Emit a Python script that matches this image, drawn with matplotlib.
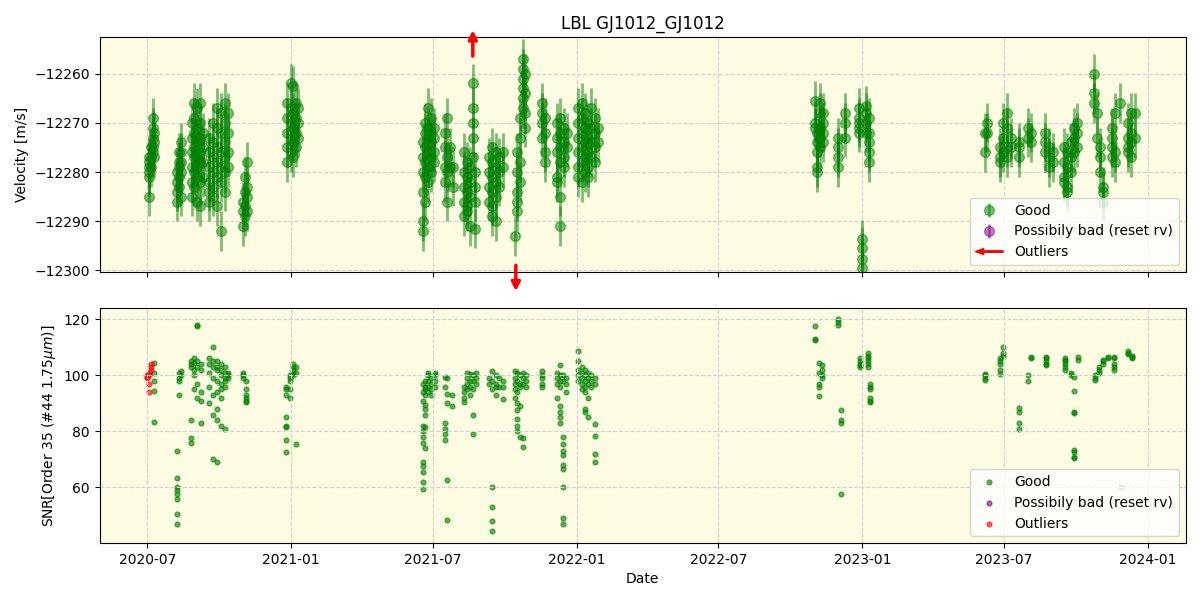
import pandas as pd
import numpy as np
import matplotlib
matplotlib.use('Agg')
import matplotlib.pyplot as plt
import matplotlib.dates as mdates
from matplotlib.patches import FancyArrow
from matplotlib.legend_handler import HandlerPatch

# RV per night: (date, [rv values in m/s])
rv_nights = [
    ("2020-07-03", [-12277, -12278, -12279, -12280, -12281, -12285]),
    ("2020-07-06", [-12275, -12277, -12279]),
    ("2020-07-08", [-12269, -12271, -12273, -12275, -12276]),
    ("2020-07-10", [-12272, -12274, -12277]),
    ("2020-08-08", [-12280, -12282, -12284, -12286]),
    ("2020-08-11", [-12276, -12278, -12279, -12281, -12283]),
    ("2020-08-13", [-12274, -12276, -12278, -12280, -12285]),
    ("2020-08-27", [-12270, -12273, -12276, -12279, -12282, -12285]),
    ("2020-08-30", [-12266, -12269, -12272, -12275, -12277, -12280, -12283]),
    ("2020-09-03", [-12267, -12271, -12274, -12277, -12279, -12281, -12286]),
    ("2020-09-06", [-12266, -12270, -12273, -12276, -12278, -12282, -12287]),
    ("2020-09-10", [-12272, -12275, -12278, -12281]),
    ("2020-09-18", [-12273, -12276, -12279, -12282, -12284, -12286]),
    ("2020-09-23", [-12270, -12274, -12277, -12280, -12283, -12285]),
    ("2020-09-28", [-12267, -12271, -12275, -12278, -12281, -12287]),
    ("2020-10-03", [-12268, -12272, -12276, -12279, -12282, -12292]),
    ("2020-10-08", [-12266, -12270, -12274, -12277, -12280, -12284]),
    ("2020-10-12", [-12268, -12272, -12276, -12279]),
    ("2020-10-31", [-12286, -12288, -12291]),
    ("2020-11-03", [-12281, -12284, -12287, -12289]),
    ("2020-11-06", [-12278, -12283, -12285, -12288]),
    ("2020-12-27", [-12266, -12269, -12272, -12275, -12278]),
    ("2020-12-31", [-12262, -12267, -12270, -12273, -12276]),
    ("2021-01-03", [-12262.5, -12268, -12271, -12274, -12277]),
    ("2021-01-07", [-12266, -12269, -12272, -12275]),
    ("2021-01-10", [-12267, -12270, -12273]),
    ("2021-06-18", [-12274, -12277, -12280, -12284, -12290, -12292]),
    ("2021-06-21", [-12270, -12272, -12275, -12278, -12281, -12286]),
    ("2021-06-25", [-12267, -12271, -12273, -12276, -12279, -12282]),
    ("2021-06-29", [-12269, -12272, -12274, -12277, -12280]),
    ("2021-07-03", [-12271, -12273, -12276, -12278]),
    ("2021-07-16", [-12272, -12275, -12279, -12282]),
    ("2021-07-19", [-12269, -12277, -12280, -12286]),
    ("2021-07-23", [-12275, -12279]),
    ("2021-07-27", [-12279, -12283]),
    ("2021-08-10", [-12276, -12280, -12283, -12286, -12289]),
    ("2021-08-14", [-12278, -12281, -12284, -12287, -12288]),
    ("2021-08-18", [-12279, -12282, -12285, -12291]),
    ("2021-08-21", [-12262, -12267, -12270, -12273, -12277]),
    ("2021-08-24", [-12280, -12283, -12286, -12291.5]),
    ("2021-09-11", [-12277, -12280, -12283, -12286]),
    ("2021-09-15", [-12275, -12278, -12281, -12284, -12287, -12289]),
    ("2021-09-19", [-12276, -12279, -12282, -12285, -12290]),
    ("2021-09-24", [-12277, -12280, -12283]),
    ("2021-09-28", [-12276, -12279]),
    ("2021-10-14", [-12293]),
    ("2021-10-17", [-12276, -12280, -12284, -12286, -12288]),
    ("2021-10-20", [-12269, -12273, -12278, -12282]),
    ("2021-10-24", [-12257, -12259, -12261, -12263, -12265, -12267]),
    ("2021-10-27", [-12260, -12264, -12268, -12271]),
    ("2021-11-18", [-12266, -12268, -12270, -12273]),
    ("2021-11-21", [-12269, -12272, -12276, -12278]),
    ("2021-12-07", [-12270, -12273, -12276, -12281, -12282]),
    ("2021-12-11", [-12269, -12272, -12275, -12278, -12285, -12291]),
    ("2021-12-15", [-12271, -12274, -12277, -12279]),
    ("2021-12-19", [-12272, -12275]),
    ("2022-01-03", [-12267, -12270, -12273, -12276, -12279, -12281]),
    ("2022-01-07", [-12266, -12269, -12272, -12275, -12278, -12282]),
    ("2022-01-11", [-12268, -12271, -12274, -12277, -12280]),
    ("2022-01-15", [-12270, -12273, -12276, -12279, -12281]),
    ("2022-01-19", [-12267, -12271, -12274, -12277]),
    ("2022-01-24", [-12269, -12272, -12275, -12278]),
    ("2022-01-28", [-12271, -12274]),
    ("2022-11-01", [-12265.5, -12270, -12271]),
    ("2022-11-04", [-12272, -12274, -12276, -12279, -12280]),
    ("2022-11-08", [-12266, -12268, -12271, -12273, -12275]),
    ("2022-11-11", [-12268, -12270, -12272, -12274]),
    ("2022-12-01", [-12273, -12275, -12277, -12279]),
    ("2022-12-10", [-12268, -12270, -12273]),
    ("2022-12-28", [-12267, -12269, -12270, -12271, -12272]),
    ("2023-01-01", [-12293.7, -12295.4, -12297.7, -12299.6]),
    ("2023-01-06", [-12266.5, -12268, -12270, -12272]),
    ("2023-01-09", [-12269, -12272, -12274, -12276, -12278]),
    ("2023-06-06", [-12272, -12276]),
    ("2023-06-09", [-12270, -12272]),
    ("2023-06-26", [-12275, -12277, -12278]),
    ("2023-06-30", [-12270, -12273, -12276]),
    ("2023-07-05", [-12268, -12271, -12275, -12277]),
    ("2023-07-10", [-12273, -12275]),
    ("2023-07-20", [-12274, -12275, -12277]),
    ("2023-07-31", [-12271, -12273]),
    ("2023-08-05", [-12272, -12274]),
    ("2023-08-22", [-12272, -12274, -12276]),
    ("2023-08-27", [-12275, -12277, -12279]),
    ("2023-09-01", [-12276, -12278]),
    ("2023-09-16", [-12275, -12278, -12281, -12282]),
    ("2023-09-20", [-12276, -12279, -12283, -12284]),
    ("2023-09-24", [-12274, -12277, -12280]),
    ("2023-09-28", [-12271, -12273, -12276]),
    ("2023-10-02", [-12270, -12272, -12275]),
    ("2023-10-24", [-12260, -12264, -12266]),
    ("2023-10-28", [-12268, -12273]),
    ("2023-11-01", [-12275, -12277, -12280]),
    ("2023-11-04", [-12283, -12284, -12286]),
    ("2023-11-16", [-12271, -12273, -12275, -12277]),
    ("2023-11-20", [-12268, -12276, -12278]),
    ("2023-11-26", [-12266]),
    ("2023-12-06", [-12270, -12273, -12275, -12276]),
    ("2023-12-10", [-12268, -12272, -12274, -12277]),
    ("2023-12-15", [-12268, -12273]),
]
rv_err = 4.0

# outliers beyond the RV axis limits (shown as arrows)
outlier_up_dates = ["2021-08-21"]
outlier_down_dates = ["2021-10-15"]

# SNR per night
snr_nights = [
    ("2020-07-10", [104.5, 101, 98, 94.5, 83.5]),
    ("2020-08-08", [73, 63.5, 60, 59, 57.5, 56, 50.5, 47]),
    ("2020-08-11", [101, 99, 98, 93]),
    ("2020-08-13", [101.5, 100]),
    ("2020-08-26", [105, 104, 103, 84, 77.5, 76]),
    ("2020-08-30", [106, 104.5, 102, 100, 95]),
    ("2020-09-03", [118, 117.5, 105, 103, 97, 92]),
    ("2020-09-07", [104, 102, 94, 91, 83]),
    ("2020-09-18", [106, 104, 101, 96, 90]),
    ("2020-09-23", [110, 105, 103, 99, 93, 86, 70]),
    ("2020-09-28", [105, 103, 102, 98, 94, 88, 84, 69]),
    ("2020-10-03", [104, 102, 100, 97, 95, 92, 82]),
    ("2020-10-08", [103, 101, 99, 98, 96, 81]),
    ("2020-10-12", [101, 100, 99]),
    ("2020-10-31", [101, 100, 99]),
    ("2020-11-04", [98, 95, 93, 92, 91, 90.5]),
    ("2020-12-25", [96, 95, 93, 85, 82, 81.5, 77, 72.5]),
    ("2020-12-30", [100, 99, 98, 95, 92]),
    ("2021-01-03", [104, 103, 102, 101, 100]),
    ("2021-01-07", [103, 101, 75.5]),
    ("2021-06-18", [97, 94, 91, 82, 80, 78, 76, 69, 67.5, 65.5, 62, 59.5]),
    ("2021-06-21", [98, 96, 95, 93, 89.5, 88, 86, 81.5, 74]),
    ("2021-06-25", [101, 100, 98, 96, 94]),
    ("2021-06-29", [99, 97, 95, 93]),
    ("2021-07-04", [101, 100, 98, 96]),
    ("2021-07-16", [99.5, 96, 83, 81, 79, 77]),
    ("2021-07-19", [99, 93.5, 90, 62.5, 48.5]),
    ("2021-07-25", [93, 89]),
    ("2021-08-10", [96, 94, 92, 90.5]),
    ("2021-08-14", [101, 99, 97, 95]),
    ("2021-08-18", [100.5, 98, 96, 93]),
    ("2021-08-21", [100, 98, 95, 86, 79]),
    ("2021-08-25", [101, 99, 97]),
    ("2021-09-11", [99, 97]),
    ("2021-09-15", [101.5, 98, 95, 60, 53, 48, 44.5]),
    ("2021-09-19", [100, 97, 96, 93]),
    ("2021-09-24", [99, 96]),
    ("2021-09-28", [98, 96, 91.5]),
    ("2021-10-14", [101.5, 99, 97, 95, 92]),
    ("2021-10-17", [101, 98, 94, 90, 87.5, 84.5, 82, 80]),
    ("2021-10-20", [100, 97, 96, 89, 78]),
    ("2021-10-24", [101, 99, 97, 77.5, 74.5]),
    ("2021-10-28", [100, 98, 96]),
    ("2021-11-18", [101.5, 100, 99, 97, 96]),
    ("2021-12-07", [101, 99, 97, 92]),
    ("2021-12-11", [103.5, 100, 98, 96, 89, 87, 85, 83]),
    ("2021-12-14", [100, 98, 78, 75.5, 73, 71.5, 68, 66.5, 60, 49, 47]),
    ("2021-12-18", [99, 97, 94]),
    ("2022-01-03", [108.5, 105, 102, 100, 98]),
    ("2022-01-07", [103, 101, 99, 97, 95]),
    ("2022-01-11", [102, 100, 98, 96, 94, 88, 87]),
    ("2022-01-15", [101, 99, 97, 92, 85]),
    ("2022-01-19", [100, 98, 96]),
    ("2022-01-24", [99, 97, 82.5, 78.5, 72, 69]),
    ("2022-11-01", [117.5, 113, 112.5]),
    ("2022-11-06", [104.5, 101, 97, 96, 92.5]),
    ("2022-11-10", [103.5, 102, 100, 99]),
    ("2022-12-01", [120, 119, 118]),
    ("2022-12-04", [87.5, 84, 83, 57.8]),
    ("2022-12-29", [106, 105, 104, 103.5, 103]),
    ("2023-01-08", [108, 107, 106, 105, 104, 103]),
    ("2023-01-10", [97, 96, 95, 92, 91, 90.5]),
    ("2023-06-07", [100.5, 100, 99, 98.5]),
    ("2023-06-26", [106, 105, 104, 102, 100.5]),
    ("2023-06-29", [110, 108, 107]),
    ("2023-07-20", [88.5, 87, 83, 81]),
    ("2023-07-31", [100, 98]),
    ("2023-08-04", [106.5, 106]),
    ("2023-08-24", [106.5, 106, 105, 104, 103.5]),
    ("2023-09-17", [106, 105.5, 105, 104, 103, 102]),
    ("2023-09-24", [101, 100]),
    ("2023-09-28", [99.5, 94.3, 87, 86.5, 73.5, 72.5, 71, 70.5]),
    ("2023-10-04", [106.5, 105.5]),
    ("2023-10-25", [98.5, 99, 100]),
    ("2023-10-30", [101, 102, 103]),
    ("2023-11-05", [104, 105, 105.5]),
    ("2023-11-11", [106, 106.5]),
    ("2023-11-18", [106.5, 106, 104, 103, 102]),
    ("2023-11-28", [60]),
    ("2023-12-07", [108.5, 108, 107.5]),
    ("2023-12-12", [107, 106.5, 106]),
]

# SNR of the outlier frames
snr_out_nights = [
    ("2020-07-01", [100, 99.5, 99]),
    ("2020-07-03", [101, 100, 97, 94]),
    ("2020-07-06", [104, 103, 102]),
]


def flatten(nights):
    d, v = [], []
    for date, vals in nights:
        d += [pd.Timestamp(date)] * len(vals)
        v += vals
    return d, np.array(v, dtype=float)


rv_t, rv = flatten(rv_nights)
snr_t, snr = flatten(snr_nights)
out_t, out_snr = flatten(snr_out_nights)


def make_arrow(legend, orig_handle, xdescent, ydescent, width, height, fontsize):
    return FancyArrow(width, 0.5 * height, -width, 0, length_includes_head=True,
                      width=0.15 * height, head_width=0.6 * height, head_length=0.3 * width,
                      color='red')


bg = '#fefce3'
fig, (ax1, ax2) = plt.subplots(2, 1, figsize=(12, 6), dpi=100, sharex=True)
fig.subplots_adjust(left=0.083, right=0.988, top=0.938, bottom=0.095, hspace=0.155)

# top panel: velocity
ax1.set_facecolor(bg)
ax1.errorbar(rv_t, rv, yerr=rv_err, fmt='o', color='green', alpha=0.5, ms=7,
             elinewidth=2, label='Good')
ax1.errorbar([], [], yerr=[], fmt='o', color='purple', alpha=0.5, ms=7,
             elinewidth=2, label='Possibily bad (reset rv)')
for d in outlier_up_dates:
    ax1.annotate('', xy=(pd.Timestamp(d), -12250.6), xytext=(pd.Timestamp(d), -12257),
                 arrowprops=dict(arrowstyle='-|>,head_width=0.25,head_length=0.5',
                                 color='red', lw=2.5), annotation_clip=False)
for d in outlier_down_dates:
    ax1.annotate('', xy=(pd.Timestamp(d), -12304.8), xytext=(pd.Timestamp(d), -12298.4),
                 arrowprops=dict(arrowstyle='-|>,head_width=0.25,head_length=0.5',
                                 color='red', lw=2.5), annotation_clip=False)
arrow_handle = FancyArrow(0, 0, 1, 0, color='red')
h, l = ax1.get_legend_handles_labels()
ax1.legend(h + [arrow_handle], l + ['Outliers'], loc='lower right',
           handler_map={FancyArrow: HandlerPatch(patch_func=make_arrow)})
ax1.set_ylim(-12300.3, -12252.6)
ax1.set_ylabel('Velocity [m/s]')
ax1.set_title('LBL GJ1012_GJ1012')
ax1.grid(True, linestyle='--', color='lightgray')

# bottom panel: SNR
ax2.set_facecolor(bg)
ax2.scatter(snr_t, snr, s=12, color='green', alpha=0.6, label='Good')
ax2.scatter([], [], s=12, color='purple', alpha=0.6, label='Possibily bad (reset rv)')
ax2.scatter(out_t, out_snr, s=12, color='red', alpha=0.6, label='Outliers')
ax2.legend(loc='lower right')
ax2.set_ylim(40.2, 123.9)
ax2.set_ylabel(r'SNR[Order 35 (#44 1.75$\mu m$)]')
ax2.set_xlabel('Date')
ax2.grid(True, linestyle='--', color='lightgray')

ax2.set_xlim(pd.Timestamp('2020-05-01'), pd.Timestamp('2024-02-18'))
ax2.xaxis.set_major_locator(mdates.MonthLocator(bymonth=[1, 7]))
ax2.xaxis.set_major_formatter(mdates.DateFormatter('%Y-%m'))

fig.savefig('out.png')
